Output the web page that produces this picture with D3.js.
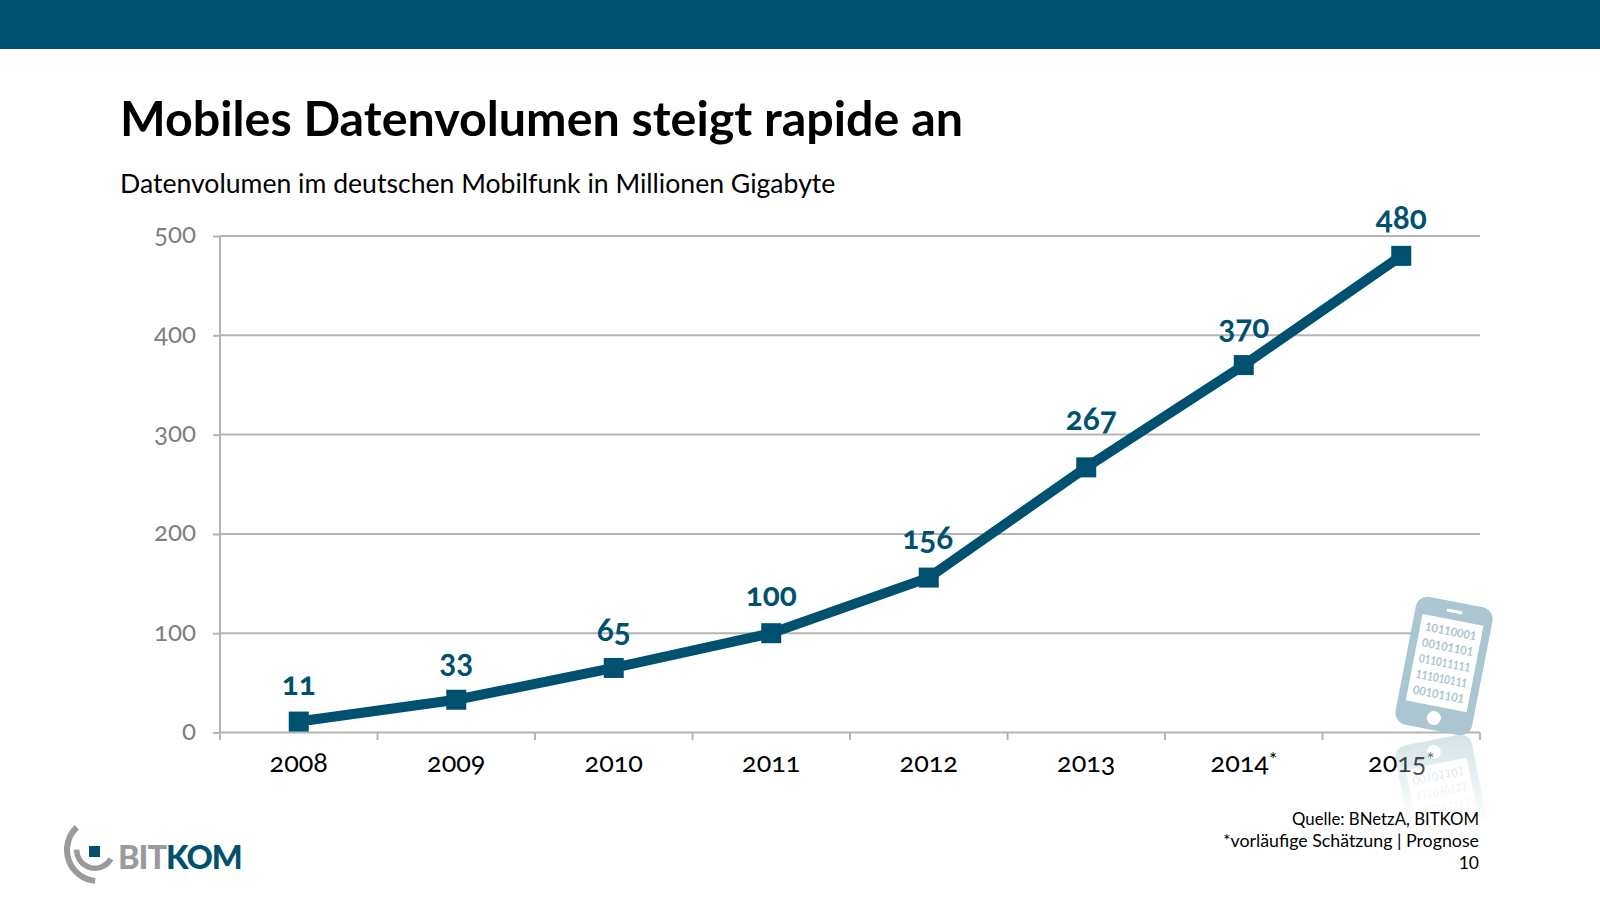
<!DOCTYPE html>
<html>
<head>
<meta charset="utf-8">
<script src="https://cdn.jsdelivr.net/npm/d3@7"></script>
<style>
  html, body { margin: 0; padding: 0; background: #fff; }
  text { font-family: Lato, "Open Sans", sans-serif; }
</style>
</head>
<body>
<div id="vis"></div>
<script>
// Chart values
var years = ['2008', '2009', '2010', '2011', '2012', '2013', '2014', '2015'];
var volumes = [11, 33, 65, 100, 156, 267, 370, 480];
var yTicks = [0, 100, 200, 300, 400, 500];
var starred = ['2014', '2015'];
var phoneDigits = ['10110001', '00101101', '011011111', '111010111', '00101101'];
var footerLines = ['Quelle: BNetzA, BITKOM', '*vorläufige Schätzung | Prognose', '10'];

// the labels were placed by hand in the original, so they need nudging
var labelNudgeX = [0, 0, 0, 0, -1, 5, 0, 0];
var labelNudgeY = [0, -1, 0, 0, -2, -10, 0, 0];
var footerSizes = [16.8, 17.8, 17.5];

var blue = '#00506f', gridGrey = '#b4b4b4', tickGrey = '#7f7f7f', phoneBlue = '#aac6d0', logoGrey = '#9a9a9a';

var svg = d3.select('#vis').append('svg')
    .attr('width', 1600)
    .attr('height', 900)
    .style('display', 'block');

// header band
svg.append('rect').attr('width', 1600).attr('height', 49).attr('fill', blue);

svg.append('text')
    .attr('x', 120).attr('y', 136)
    .attr('font-size', 48.4).attr('font-weight', 700).attr('fill', '#000')
    .text('Mobiles Datenvolumen steigt rapide an');

svg.append('text')
    .attr('x', 120).attr('y', 193)
    .attr('font-size', 26.6).attr('fill', '#000')
    .text('Datenvolumen im deutschen Mobilfunk in Millionen Gigabyte');

// scales
var x = d3.scaleBand().domain(years).range([220, 1480]);
var y = d3.scaleLinear().domain([0, 500]).range([732.5, 236]);
var cx = function(d) { return x(d) + x.bandwidth() / 2; };

// y axis + grid
var yAxis = d3.axisLeft(y).tickValues(yTicks).tickSize(7).tickPadding(17);
var yG = svg.append('g').attr('transform', 'translate(220,0)').call(yAxis);
yG.select('.domain').attr('stroke', gridGrey).attr('stroke-width', 2).attr('d', 'M0,236V732.5');
yG.selectAll('.tick line').attr('stroke', gridGrey).attr('stroke-width', 2);
yG.selectAll('.tick text')
    .attr('font-size', 26).attr('fill', tickGrey)
    .attr('y', -1.5)
    .style('font-family', 'Lato, sans-serif')
    .style('font-variant-numeric', 'oldstyle-nums');

svg.append('g').selectAll('line').data(yTicks).enter().append('line')
    .attr('x1', 220).attr('x2', 1480)
    .attr('y1', function(d) { return y(d); })
    .attr('y2', function(d) { return y(d); })
    .attr('stroke', gridGrey).attr('stroke-width', 2);

// x axis, ticks sit between the years
var xG = svg.append('g').attr('transform', 'translate(0,732.5)')
    .call(d3.axisBottom(x).tickSize(0).tickPadding(20));
xG.select('.domain').remove();
xG.selectAll('.tick text')
    .attr('font-size', 27).attr('fill', '#000')
    .style('font-family', 'Lato, sans-serif')
    .style('font-variant-numeric', 'oldstyle-nums');
xG.selectAll('.tick text').filter(function(d) { return starred.indexOf(d) >= 0; })
    .append('tspan').attr('dy', -6).attr('font-size', 19).text('*');

svg.append('g').selectAll('line')
    .data(years.concat(['end']))
    .enter().append('line')
    .attr('x1', function(d) { return d === 'end' ? 1480 : x(d); })
    .attr('x2', function(d) { return d === 'end' ? 1480 : x(d); })
    .attr('y1', 732.5).attr('y2', 740)
    .attr('stroke', gridGrey).attr('stroke-width', 2);

// phone picture, sits above the grid but below the line
function drawPhone(g) {
  g.append('rect').attr('x', -39).attr('y', -65).attr('width', 78).attr('height', 130).attr('rx', 12)
      .attr('fill', phoneBlue);
  g.append('rect').attr('x', -31).attr('y', -47).attr('width', 62).attr('height', 88)
      .attr('fill', '#fff');
  g.append('rect').attr('x', -8).attr('y', -57).attr('width', 16).attr('height', 3).attr('rx', 1.5)
      .attr('fill', '#fff');
  g.append('circle').attr('cy', 53).attr('r', 7).attr('fill', '#fff');
  g.selectAll('text').data(phoneDigits).enter().append('text')
      .attr('x', 0)
      .attr('y', function(d, i) { return -31 + i * 16; })
      .attr('text-anchor', 'middle')
      .attr('font-size', 12).attr('font-weight', 700)
      .attr('textLength', 52).attr('lengthAdjust', 'spacingAndGlyphs')
      .attr('fill', phoneBlue)
      .text(function(d) { return d; });
}
drawPhone(svg.append('g').attr('transform', 'translate(1444,666) rotate(11)'));

// reflection under the axis fades out
var defs = svg.append('defs');
var fade = defs.append('linearGradient').attr('id', 'fade')
    .attr('x1', 0).attr('x2', 0).attr('y1', 0).attr('y2', 1);
fade.append('stop').attr('offset', 0).attr('stop-color', '#fff').attr('stop-opacity', 0.5);
fade.append('stop').attr('offset', 1).attr('stop-color', '#fff').attr('stop-opacity', 0);
var mask = defs.append('mask').attr('id', 'fadeMask').attr('maskUnits', 'userSpaceOnUse')
    .attr('x', 1380).attr('y', 735).attr('width', 120).attr('height', 90);
mask.append('rect').attr('x', 1380).attr('y', 735).attr('width', 120).attr('height', 90).attr('fill', 'url(#fade)');
var refl = svg.append('g').attr('mask', 'url(#fadeMask)')
    .append('g').attr('transform', 'translate(1444,804) rotate(-11) scale(1,-1)');
drawPhone(refl);

// line and markers
var line = d3.line()
    .x(function(d, i) { return cx(years[i]); })
    .y(function(d) { return y(d); });

svg.append('path').datum(volumes)
    .attr('d', line)
    .attr('fill', 'none').attr('stroke', blue).attr('stroke-width', 10);

svg.append('g').selectAll('rect').data(volumes).enter().append('rect')
    .attr('x', function(d, i) { return cx(years[i]) - 10; })
    .attr('y', function(d) { return y(d) - 10; })
    .attr('width', 20).attr('height', 20)
    .attr('fill', blue);

svg.append('g').selectAll('text').data(volumes).enter().append('text')
    .attr('x', function(d, i) { return cx(years[i]) + labelNudgeX[i]; })
    .attr('y', function(d, i) { return y(d) - 27 + labelNudgeY[i]; })
    .attr('text-anchor', 'middle')
    .attr('font-size', 31.5).attr('font-weight', 700).attr('fill', blue)
    .style('font-variant-numeric', 'oldstyle-nums')
    .text(function(d) { return d; });

// footer
svg.append('g').selectAll('text').data(footerLines).enter().append('text')
    .attr('x', 1479)
    .attr('y', function(d, i) { return 825 + i * 22; })
    .attr('text-anchor', 'end')
    .attr('font-size', function(d, i) { return footerSizes[i]; })
    .attr('fill', '#000')
    .text(function(d) { return d; });

// logo
var logo = svg.append('g').attr('transform', 'translate(98,850)');
var arc = d3.arc();
logo.append('path')
    .attr('d', arc({innerRadius: 28, outerRadius: 34, startAngle: -0.75, endAngle: -3.05}))
    .attr('fill', logoGrey);
logo.append('path')
    .attr('transform', 'translate(-3,0)')
    .attr('d', arc({innerRadius: 15.5, outerRadius: 21, startAngle: -1.55, endAngle: -4.2}))
    .attr('fill', logoGrey);
logo.append('rect').attr('x', -9).attr('y', -4).attr('width', 11).attr('height', 11).attr('fill', blue);
var logoText = svg.append('text').attr('x', 118).attr('y', 869)
    .attr('font-size', 32.5).attr('font-weight', 900).attr('letter-spacing', -1);
logoText.append('tspan').attr('fill', logoGrey).text('BIT');
logoText.append('tspan').attr('fill', blue).text('KOM');
</script>
</body>
</html>
